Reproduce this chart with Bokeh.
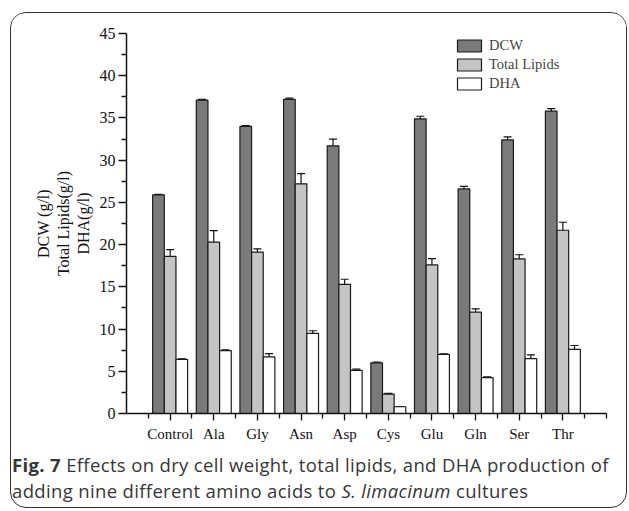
from bokeh.plotting import figure
from bokeh.layouts import column
from bokeh.models import (ColumnDataSource, Whisker, TeeHead, FixedTicker, Legend,
                          LegendItem, Div)
from bokeh.transform import dodge
from bokeh.embed import file_html
from bokeh.resources import INLINE

# ---- data ----
categories = ["Control", "Ala", "Gly", "Asn", "Asp", "Cys", "Glu", "Gln", "Ser", "Thr"]
dcw = [25.9, 37.1, 34.0, 37.2, 31.7, 6.0, 34.9, 26.6, 32.4, 35.8]
dcw_err = [0.05, 0.1, 0.1, 0.15, 0.8, 0.08, 0.3, 0.3, 0.35, 0.3]
lipids = [18.6, 20.3, 19.1, 27.2, 15.3, 2.3, 17.6, 12.0, 18.3, 21.7]
lipids_err = [0.8, 1.35, 0.4, 1.2, 0.6, 0.08, 0.75, 0.4, 0.5, 0.95]
dha = [6.4, 7.45, 6.7, 9.5, 5.1, 0.8, 7.0, 4.25, 6.5, 7.6]
dha_err = [0.08, 0.1, 0.4, 0.3, 0.15, 0.02, 0.05, 0.08, 0.45, 0.45]
y_ticks = [0, 5, 10, 15, 20, 25, 30, 35, 40, 45]
series_names = ["DCW", "Total Lipids", "DHA"]
y_label = "DCW (g/l)\nTotal Lipids(g/l)\nDHA(g/l)"
caption_bold = "Fig. 7"
caption_line1 = "Effects on dry cell weight, total lipids, and DHA production of"
caption_line2a = "adding nine different amino acids to"
caption_italic = "S. limacinum"
caption_line2b = "cultures"

idx = list(range(1, len(categories) + 1))
src = ColumnDataSource(dict(
    x=idx,
    dcw=dcw, dcw_lo=[v - e for v, e in zip(dcw, dcw_err)], dcw_hi=[v + e for v, e in zip(dcw, dcw_err)],
    tl=lipids, tl_lo=[v - e for v, e in zip(lipids, lipids_err)], tl_hi=[v + e for v, e in zip(lipids, lipids_err)],
    dha=dha, dha_lo=[v - e for v, e in zip(dha, dha_err)], dha_hi=[v + e for v, e in zip(dha, dha_err)],
))

fig = figure(width=615, height=437, output_backend="svg", toolbar_location=None,
             x_range=(0, len(categories) + 1), y_range=(0, 45),
             min_border_left=115, min_border_right=20, min_border_top=20, min_border_bottom=37)
fig.background_fill_color = "white"
fig.border_fill_color = "white"
fig.outline_line_color = None
fig.grid.visible = False

serif = "Liberation Serif"
bw = 0.267
specs = [("dcw", -bw, "#7a7a7a"), ("tl", 0.0, "#c4c4c4"), ("dha", bw, "#ffffff")]
items = []
for (key, off, col), name in zip(specs, series_names):
    r = fig.vbar(x=dodge("x", off, range=fig.x_range), top=key, width=bw, bottom=0, source=src,
                 fill_color=col, line_color="#1a1a1a", line_width=1.2)
    items.append(LegendItem(label=name, renderers=[r]))
    wk = Whisker(base=dodge("x", off, range=fig.x_range), lower=key + "_lo", upper=key + "_hi", source=src,
                 line_color="#111111", line_width=1.2,
                 upper_head=TeeHead(size=8, line_color="#111111", line_width=1.2),
                 lower_head=TeeHead(size=8, line_color="#111111", line_width=1.2))
    fig.add_layout(wk)

# axes
for ax in (fig.xaxis[0], fig.yaxis[0]):
    ax.axis_line_color = "#111111"
    ax.axis_line_width = 1.5
    ax.major_tick_line_color = "#111111"
    ax.minor_tick_line_color = "#111111"
    ax.major_tick_line_width = 1.3
    ax.minor_tick_line_width = 1.3
    ax.major_tick_in = 0
    ax.minor_tick_in = 0
    ax.major_label_text_font = serif
    ax.major_label_text_color = "#111111"

fig.yaxis.ticker = FixedTicker(ticks=y_ticks, minor_ticks=[v + 2.5 for v in y_ticks[:-1]])
fig.yaxis.major_tick_out = 8
fig.yaxis.minor_tick_out = 5
fig.yaxis.major_label_standoff = 3
fig.yaxis.major_label_text_font_size = "16px"
fig.yaxis.axis_label = y_label
fig.yaxis.axis_label_text_font = serif
fig.yaxis.axis_label_text_font_style = "normal"
fig.yaxis.axis_label_text_font_size = "16px"
fig.yaxis.axis_label_text_color = "#111111"
fig.yaxis.axis_label_text_line_height = 1.15
fig.yaxis.axis_label_standoff = 5

fig.xaxis.ticker = FixedTicker(ticks=idx, minor_ticks=[i - 0.5 for i in idx] + [len(idx) + 0.5, len(idx) + 1])
fig.xaxis.major_label_overrides = {i: c for i, c in zip(idx, categories)}
fig.xaxis.major_tick_out = 7
fig.xaxis.minor_tick_out = 5
fig.xaxis.major_label_standoff = 5
fig.xaxis.major_label_text_font_size = "15px"

legend = Legend(items=items, location=(328, 321), glyph_width=30, glyph_height=15,
                label_text_font=serif, label_text_font_size="14.5px", label_height=15,
                label_standoff=5, spacing=2, padding=0, margin=0,
                border_line_color=None, background_fill_alpha=0)
fig.add_layout(legend)

cap = Div(
    text=(f"<b>{caption_bold}</b> {caption_line1}<br>"
          f"{caption_line2a} <i>{caption_italic}</i> {caption_line2b}"),
    width=615, height=57, margin=0,
    styles={"font-family": "'Open Sans'", "font-size": "18.5px", "line-height": "25.5px",
            "letter-spacing": "0.35px", "color": "#363636", "white-space": "nowrap",
            "padding-left": "1px", "padding-top": "2px"},
)

p = column(fig, cap, margin=(12, 0, 0, 10), spacing=0,
           styles={"border": "1.5px solid #333333", "border-radius": "16px",
                   "background": "white", "overflow": "hidden"})

open("out.html", "w").write(file_html(p, INLINE))
